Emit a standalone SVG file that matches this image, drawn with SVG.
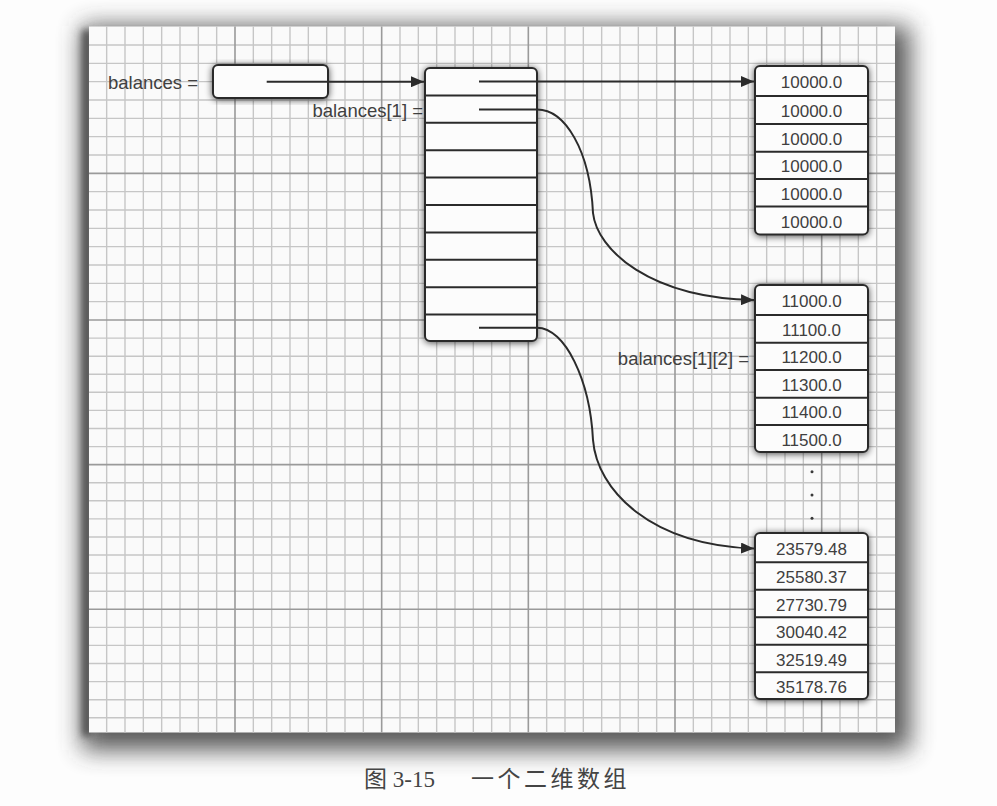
<svg xmlns="http://www.w3.org/2000/svg" width="997" height="806" viewBox="0 0 997 806">
<defs>
<style>
.minor{stroke:#c6c6c6;stroke-width:1.4;fill:none}
.major{stroke:#9a9a9a;stroke-width:1.6;fill:none}
.box{fill:#fcfcfc;stroke:#2b2b2b;stroke-width:2}
.div{stroke:#2b2b2b;stroke-width:2}
.num{font-family:"Liberation Sans",Arial,sans-serif;font-size:17px;fill:#404040;text-anchor:middle}
.lbl{font-family:"Liberation Sans",Arial,sans-serif;font-size:18.5px;fill:#404040}
.conn{fill:none;stroke:#2b2b2b;stroke-width:2}
.cap{font-family:"Liberation Serif","Noto Sans CJK SC",serif;font-size:23px;fill:#444}
</style>
<filter id="ps" x="-10%" y="-10%" width="120%" height="125%"><feGaussianBlur stdDeviation="12"/></filter>
<filter id="ls" x="-200%" y="-5%" width="500%" height="110%"><feGaussianBlur stdDeviation="3.5"/></filter>
<filter id="bs" x="-20%" y="-20%" width="140%" height="140%">
<feGaussianBlur in="SourceAlpha" stdDeviation="3.5"/><feOffset dx="0" dy="1"/>
<feComponentTransfer><feFuncA type="linear" slope="0.7"/></feComponentTransfer>
<feMerge><feMergeNode/><feMergeNode in="SourceGraphic"/></feMerge></filter>
<marker id="ah" viewBox="0 0 13 11" refX="13" refY="5.5" markerWidth="13" markerHeight="11" markerUnits="userSpaceOnUse" orient="auto">
<path d="M0,0 L13,5.5 L0,11 Z" fill="#2b2b2b"/></marker>
</defs>
<rect width="997" height="806" fill="#fdfdfd"/>
<g id="panel">
<rect x="82" y="26" width="828" height="724" fill="#3a3a3a" opacity="0.85" filter="url(#ps)"/>
<rect x="82" y="30" width="10" height="706" fill="#555" filter="url(#ls)"/>
<rect x="89" y="26.5" width="806" height="706" fill="#fafafa"/>
<path class="minor" d="M106.67,26.5V732.5M125,26.5V732.5M143.33,26.5V732.5M161.67,26.5V732.5M180,26.5V732.5M198.33,26.5V732.5M216.67,26.5V732.5M253.33,26.5V732.5M271.67,26.5V732.5M290,26.5V732.5M308.33,26.5V732.5M326.67,26.5V732.5M345,26.5V732.5M363.33,26.5V732.5M400,26.5V732.5M418.33,26.5V732.5M436.67,26.5V732.5M455,26.5V732.5M473.33,26.5V732.5M491.67,26.5V732.5M510,26.5V732.5M546.67,26.5V732.5M565,26.5V732.5M583.33,26.5V732.5M601.67,26.5V732.5M620,26.5V732.5M638.33,26.5V732.5M656.67,26.5V732.5M693.33,26.5V732.5M711.67,26.5V732.5M730,26.5V732.5M748.33,26.5V732.5M766.67,26.5V732.5M785,26.5V732.5M803.33,26.5V732.5M840,26.5V732.5M858.33,26.5V732.5M876.67,26.5V732.5
M89,45H895M89,63.33H895M89,81.67H895M89,100H895M89,118.33H895M89,136.67H895M89,155H895M89,191.67H895M89,210H895M89,228.33H895M89,246.67H895M89,265H895M89,283.33H895M89,301.67H895M89,338.1H895M89,356.2H895M89,374.2H895M89,392.3H895M89,410.4H895M89,428.5H895M89,446.6H895M89,482.7H895M89,500.8H895M89,518.9H895M89,537H895M89,555H895M89,573.1H895M89,591.2H895M89,627.4H895M89,645.4H895M89,663.5H895M89,681.6H895M89,699.7H895M89,717.8H895"/>
<path class="major" d="M235,26.5V732.5M381.67,26.5V732.5M528.33,26.5V732.5M675,26.5V732.5M821.67,26.5V732.5M89,173.33H895M89,320H895M89,464.6H895M89,609.3H895"/>
</g>
<g id="balances">
<text class="lbl" x="108" y="88.5">balances =</text>
<rect class="box" x="213" y="65" width="115" height="33" rx="5" filter="url(#bs)"/>
</g>
<g id="rows">
<text class="lbl" x="423" y="116.5" text-anchor="end">balances[1] =</text>
<rect class="box" x="425" y="68" width="112" height="273" rx="5" filter="url(#bs)"/>
<path class="div" d="M425,95.4H537M425,122.8H537M425,150.2H537M425,177.6H537M425,205H537M425,232.4H537M425,259.8H537M425,287.2H537M425,314.6H537"/>
</g>
<g id="row0">
<rect class="box" x="755" y="66" width="113" height="168.5" rx="5" filter="url(#bs)"/>
<path class="div" d="M755,96H868M755,124H868M755,151.7H868M755,179H868M755,206.5H868"/>
<text class="num" x="811.5" y="88">10000.0</text>
<text class="num" x="811.5" y="117">10000.0</text>
<text class="num" x="811.5" y="144.8">10000.0</text>
<text class="num" x="811.5" y="172.3">10000.0</text>
<text class="num" x="811.5" y="199.8">10000.0</text>
<text class="num" x="811.5" y="227.5">10000.0</text>
</g>
<g id="row1">
<text class="lbl" x="749" y="364.5" text-anchor="end">balances[1][2] =</text>
<rect class="box" x="755" y="285" width="113" height="167" rx="5" filter="url(#bs)"/>
<path class="div" d="M755,315H868M755,342.7H868M755,370H868M755,397.7H868M755,425H868"/>
<text class="num" x="811.5" y="307">11000.0</text>
<text class="num" x="811.5" y="335.9">11100.0</text>
<text class="num" x="811.5" y="363.3">11200.0</text>
<text class="num" x="811.5" y="390.9">11300.0</text>
<text class="num" x="811.5" y="418.3">11400.0</text>
<text class="num" x="811.5" y="445.5">11500.0</text>
</g>
<g id="ellipsis" fill="#3a3a3a">
<circle cx="812" cy="471.7" r="1.5"/>
<circle cx="812" cy="495" r="1.5"/>
<circle cx="812" cy="518.3" r="1.5"/>
</g>
<g id="row9">
<rect class="box" x="755" y="533" width="113" height="166" rx="5" filter="url(#bs)"/>
<path class="div" d="M755,562.3H868M755,589.8H868M755,617.3H868M755,644.8H868M755,672.3H868"/>
<text class="num" x="811.5" y="555">23579.48</text>
<text class="num" x="811.5" y="583">25580.37</text>
<text class="num" x="811.5" y="610.5">27730.79</text>
<text class="num" x="811.5" y="638">30040.42</text>
<text class="num" x="811.5" y="665.5">32519.49</text>
<text class="num" x="811.5" y="692.5">35178.76</text>
</g>
<g id="connectors">
<path class="conn" d="M266.7,81.7H424" marker-end="url(#ah)"/>
<path class="conn" d="M479,81.5H754" marker-end="url(#ah)"/>
<path class="conn" d="M479,109.5H537C565,109.5 590,150 593,213C597,250 650,298 754,300" marker-end="url(#ah)"/>
<path class="conn" d="M479,327.7H537C565,327.7 590,380 593,440C597,490 650,545 754,548.5" marker-end="url(#ah)"/>
</g>
<g id="caption">
<text class="cap" x="364" y="787">图 3-15<tspan x="471" letter-spacing="3.5">一个二维数组</tspan></text>
</g>
</svg>
